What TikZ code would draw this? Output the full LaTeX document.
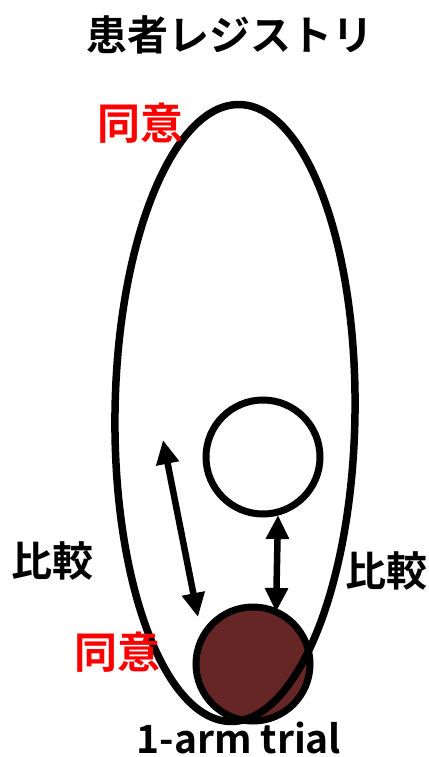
\documentclass[tikz,border=0pt]{standalone}
\usepackage{fontspec}
\setmainfont{Noto Sans CJK JP}[BoldFont={* Bold}]
\newfontfamily\jpfont{Noto Sans CJK JP Bold}
\usetikzlibrary{arrows.meta,shapes.geometric}
\definecolor{brownfill}{HTML}{662626}
\begin{document}
\begin{tikzpicture}[x=1pt,y=-1pt,
  lbl/.style={font=\jpfont\fontsize{41}{44}\selectfont, inner sep=0pt},
  redlbl/.style={lbl, font=\jpfont\fontsize{43}{44}\selectfont, text=red},
  dbl/.style={line width=6.5pt, {Triangle[length=24pt,width=22pt]}-{Triangle[length=24pt,width=22pt]}}]
\useasboundingbox (0,0) rectangle (428,757);
\node[lbl] (title) at (230,35) {患者レジストリ};
\node[draw, line width=7pt, circle, minimum size=114pt, fill=brownfill] (trial) at (253,664) {};
\node[draw, line width=7.5pt, ellipse, minimum width=240pt, minimum height=617pt, rotate=-0.8, inner sep=0pt] (reg) at (235,413) {};
\node[draw, line width=7pt, circle, minimum size=114pt, fill=white] (ctrl) at (263,457) {};
\node[redlbl] (c1) at (140,123) {同意};
\node[redlbl] (c2) at (117,652) {同意};
\node[lbl] (k1) at (53,561) {比較};
\node[lbl] (k2) at (386,571) {比較};
\node[lbl, font=\jpfont\fontsize{39}{42}\selectfont] (arm) at (239,738) {1-arm trial};
\coordinate (a1) at (163,440);
\coordinate (a2) at (198,617);
\draw[dbl] (a1) -- (a2);
\coordinate (b1) at (278,515);
\coordinate (b2) at (276,612);
\draw[dbl] (b1) -- (b2);
\end{tikzpicture}
\end{document}
